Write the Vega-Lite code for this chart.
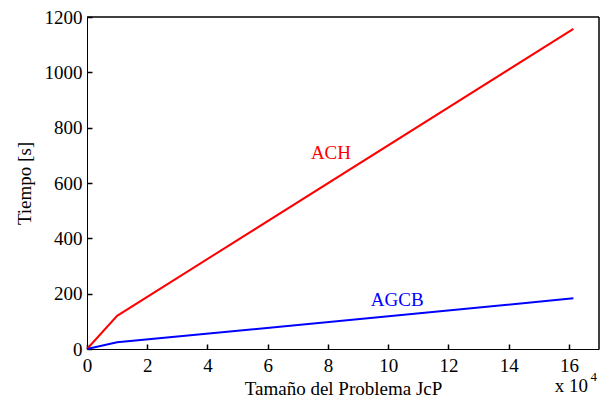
{
  "$schema": "https://vega.github.io/schema/vega-lite/v6.json",
  "width": 512,
  "height": 332,
  "autosize": {"type": "none"},
  "padding": {"left": 87, "top": 17, "right": 6, "bottom": 53},
  "background": "white",
  "config": {
    "view": {"stroke": null},
    "axis": {
      "domainColor": "black", "tickColor": "black", "labelColor": "black", "titleColor": "black",
      "labelFont": "Liberation Serif", "titleFont": "Liberation Serif",
      "labelFontSize": 19, "titleFontSize": 19, "titleFontWeight": "normal",
      "grid": false, "ticks": true, "tickSize": -5, "domainWidth": 1, "tickWidth": 1.5
    },
    "text": {"font": "Liberation Serif"}
  },
  "datasets": {
    "lines": [
      {"n": 0, "t": 0, "alg": "ACH"},
      {"n": 1, "t": 120, "alg": "ACH"},
      {"n": 16.15, "t": 1157, "alg": "ACH"},
      {"n": 0, "t": 0, "alg": "AGCB"},
      {"n": 1, "t": 24, "alg": "AGCB"},
      {"n": 16.15, "t": 183, "alg": "AGCB"}
    ],
    "labels": [
      {"n": 8.1, "t": 708, "alg": "ACH"},
      {"n": 10.3, "t": 177, "alg": "AGCB"}
    ]
  },
  "layer": [
    {
      "data": {"name": "lines"},
      "mark": {"type": "line", "strokeWidth": 2},
      "encoding": {
        "x": {"field": "n", "type": "quantitative", "scale": {"domain": [0, 17], "nice": false},
              "axis": {"values": [0,2,4,6,8,10,12,14,16], "title": "Tamaño del Problema JcP", "labelPadding": 12, "titlePadding": 4, "labelFlush": false}},
        "y": {"field": "t", "type": "quantitative", "scale": {"domain": [0, 1200], "nice": false},
              "axis": {"values": [0,200,400,600,800,1000,1200], "format": "d", "title": "Tiempo [s]", "labelPadding": 10, "titlePadding": 10, "labelFlush": false}},
        "color": {"field": "alg", "type": "nominal", "scale": {"domain": ["ACH", "AGCB"], "range": ["#ff0000", "#0000ff"]}, "legend": null}
      }
    },
    {
      "data": {"values": [{}]},
      "mark": {"type": "rule", "color": "black", "strokeWidth": 1.5},
      "encoding": {
        "x": {"datum": 17, "type": "quantitative"},
        "y": {"datum": 0, "type": "quantitative"},
        "y2": {"datum": 1200}
      }
    },
    {
      "data": {"values": [{}]},
      "mark": {"type": "rule", "color": "black", "strokeWidth": 1.5},
      "encoding": {
        "y": {"datum": 1200, "type": "quantitative"},
        "x": {"datum": 0, "type": "quantitative"},
        "x2": {"datum": 17}
      }
    },
    {
      "data": {"name": "labels"},
      "mark": {"type": "text", "fontSize": 19, "font": "Liberation Serif"},
      "encoding": {
        "x": {"field": "n", "type": "quantitative"},
        "y": {"field": "t", "type": "quantitative"},
        "text": {"field": "alg"},
        "color": {"field": "alg", "type": "nominal", "legend": null}
      }
    },
    {
      "data": {"values": [{"n": 17, "t": 0, "s": "x 10"}]},
      "mark": {"type": "text", "fontSize": 19, "font": "Liberation Serif", "align": "right", "dx": -11, "dy": 37, "color": "black"},
      "encoding": {
        "x": {"field": "n", "type": "quantitative"},
        "y": {"field": "t", "type": "quantitative"},
        "text": {"field": "s"}
      }
    },
    {
      "data": {"values": [{"n": 17, "t": 0, "s": "4"}]},
      "mark": {"type": "text", "fontSize": 13, "font": "Liberation Serif", "align": "right", "dx": -2, "dy": 28, "color": "black"},
      "encoding": {
        "x": {"field": "n", "type": "quantitative"},
        "y": {"field": "t", "type": "quantitative"},
        "text": {"field": "s"}
      }
    }
  ]
}
